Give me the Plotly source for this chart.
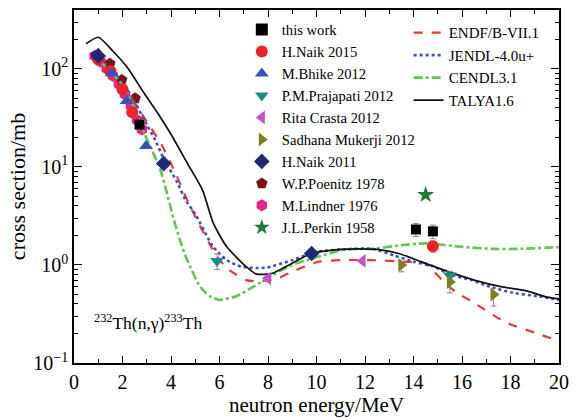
import plotly.graph_objects as go

# ---------------- data ----------------
talys_x = [0.5, 1.0, 1.6, 2.2, 2.9, 3.4, 4.0, 4.7, 5.3, 5.75, 6.3, 7.1, 7.5, 8.1, 8.7, 9.8, 11.0, 11.7, 12.5, 13.4, 14.3, 15.4, 16.5, 17.6, 18.7, 19.5, 20.0]
talys_y = [180, 210, 152, 103, 56, 37, 21.5, 10.6, 5.8, 2.65, 1.53, 0.96, 0.81, 0.81, 0.95, 1.31, 1.44, 1.46, 1.44, 1.31, 1.08, 0.86, 0.70, 0.60, 0.54, 0.47, 0.45]

endf_x = [0.9, 1.5, 2.0, 2.5, 3.0, 3.6, 4.2, 4.6, 5.06, 5.9, 6.4, 7.1, 7.7, 8.4, 9.0, 10.1, 11.1, 12.3, 13.6, 14.5, 14.7, 15.4, 15.8, 16.5, 17.8, 19.2, 20.0]
endf_y = [125, 95, 68, 45, 29, 17, 8.5, 5.0, 2.9, 1.21, 0.89, 0.70, 0.68, 0.73, 0.855, 1.08, 1.12, 1.12, 1.08, 1.04, 0.93, 0.62, 0.52, 0.41, 0.26, 0.196, 0.168]

jendl_x = [0.9, 1.5, 2.0, 2.5, 3.0, 3.34, 3.68, 4.25, 4.6, 5.0, 5.74, 6.3, 6.9, 7.5, 7.95, 9.0, 10.0, 11.1, 12.3, 13.2, 14.0, 14.8, 15.5, 16.4, 17.15, 18.1, 19.1, 20.0]
jendl_y = [140, 100, 72, 46, 27, 19, 12.4, 7.0, 4.6, 3.3, 1.53, 1.12, 0.96, 0.93, 0.94, 1.12, 1.36, 1.44, 1.46, 1.25, 1.08, 0.97, 0.80, 0.70, 0.60, 0.52, 0.48, 0.44]

cendl_x = [1.0, 1.5, 2.17, 2.9, 3.55, 3.8, 4.1, 4.4, 4.65, 5.2, 5.6, 6.0, 6.7, 7.4, 8.2, 9.0, 10.0, 11.2, 12.3, 13.4, 14.5, 16.0, 17.2, 18.4, 20.0]
cendl_y = [122, 95, 59, 22, 9.5, 5.8, 3.0, 1.7, 1.15, 0.60, 0.48, 0.44, 0.48, 0.60, 0.79, 1.0, 1.2, 1.44, 1.46, 1.58, 1.66, 1.53, 1.46, 1.46, 1.52]

work_x = [2.7, 14.1, 14.8]
work_y = [27, 2.3, 2.2]
work_e = [3, 0.35, 0.35]

naik15_x = [1.0, 1.5, 2.0, 2.4, 14.8]
naik15_y = [125, 95, 62, 36, 1.55]
naik15_e = [8, 6, 4, 3, 0.2]

bhike_x = [1.0, 1.55, 2.17, 2.97]
bhike_y = [143, 90, 47, 16.3]

praj_x = [5.9, 15.5]
praj_y = [1.1, 0.78]
praj_e = [0.2, 0.08]

crasta_x = [8.0, 11.9]
crasta_y = [0.73, 1.1]

mukerji_x = [13.5, 15.5, 17.3]
mukerji_y = [1.0, 0.67, 0.5]
mukerji_em = [0.15, 0.15, 0.12]

naik11_x = [1.0, 3.7, 9.8]
naik11_y = [135, 10.8, 1.31]

poenitz_x = [0.93, 1.48, 1.97, 2.52]
poenitz_y = [137, 113, 77, 50]

lindner_x = [0.85, 1.1, 1.35, 1.6, 1.85, 2.1, 2.35, 2.6, 2.8]
lindner_y = [135, 118, 100, 85, 70, 55, 42, 30, 24]

perkin_x = [14.5]
perkin_y = [5.2]

x_ticks = [0, 2, 4, 6, 8, 10, 12, 14, 16, 18, 20]
y_tickvals = [0.1, 1, 10, 100]
y_ticktext = ["10<sup>−1</sup>", "10<sup>0</sup>", "10<sup>1</sup>", "10<sup>2</sup>"]
y_minor = [m * 10 ** e for e in (-1, 0, 1, 2) for m in range(2, 10)]

FONT = "Times New Roman, Liberation Serif, serif"

fig = go.Figure()

def markers(name, x, y, symbol, color, size, rank, err=None, errm=None):
    kw = {}
    if err is not None or errm is not None:
        kw["error_y"] = dict(type="data", array=err if err is not None else [0] * len(x),
                             arrayminus=errm if errm is not None else err,
                             symmetric=False, color="#8a8a8a", thickness=1, width=3)
    fig.add_trace(go.Scatter(x=x, y=y, mode="markers", name=name, legend="legend",
                             legendrank=rank, legendgroup=name,
                             marker=dict(symbol=symbol, color=color, size=size, line=dict(width=0)),
                             **kw))

# low-energy clusters drawn beneath evaluation curves
markers("M.Lindner 1976", lindner_x, lindner_y, "hexagon", "#e8228c", 12, 9)
markers("W.P.Poenitz 1978", poenitz_x, poenitz_y, "pentagon", "#7a1414", 12, 8)

def curve(name, x, y, color, dash, width, rank):
    fig.add_trace(go.Scatter(x=x, y=y, mode="lines", name=name, legend="legend2",
                             legendrank=rank, legendgroup=name,
                             line=dict(color=color, dash=dash, width=width, shape="spline", smoothing=0.6)))

curve("ENDF/B-VII.1", endf_x, endf_y, "#e8373a", "dash", 2.2, 11)
curve("JENDL-4.0u+", jendl_x, jendl_y, "#3b4fbf", "dot", 2.6, 12)
curve("CENDL3.1", cendl_x, cendl_y, "#5cc84e", "dashdot", 2.6, 13)
curve("TALYA1.6", talys_x, talys_y, "#111111", "solid", 1.7, 14)

markers("this work", work_x, work_y, "square", "#000000", 10, 1, err=work_e)
markers("H.Naik 2015", naik15_x, naik15_y, "circle", "#ee2228", 12, 2, err=naik15_e)
markers("M.Bhike 2012", bhike_x, bhike_y, "triangle-up", "#3553b8", 12, 3)
markers("P.M.Prajapati 2012", praj_x, praj_y, "triangle-down", "#1c8c8a", 12, 4, err=praj_e)
markers("Rita Crasta 2012", crasta_x, crasta_y, "triangle-left", "#c452c0", 12, 5)
markers("Sadhana Mukerji 2012", mukerji_x, mukerji_y, "triangle-right", "#7f7f22", 12, 6,
        err=[0.0, 0.0, 0.0], errm=mukerji_em)
markers("H.Naik 2011", naik11_x, naik11_y, "diamond", "#1f2778", 12, 7)
markers("J.L.Perkin 1958", perkin_x, perkin_y, "star", "#1d7a3c", 13, 10)

fig.add_annotation(x=0.037, y=0.078, xref="paper", yref="paper", xanchor="left", yanchor="bottom",
                   text="<sup>232</sup>Th(n,γ)<sup>233</sup>Th", showarrow=False,
                   font=dict(family=FONT, size=17.5, color="black"))

axis_common = dict(showline=True, linecolor="black", linewidth=1.5, mirror="ticks",
                   ticks="inside", tickcolor="black", tickwidth=1.2, showgrid=False, zeroline=False,
                   tickfont=dict(family=FONT, size=20, color="black"))

fig.update_xaxes(range=[0, 20], tickvals=x_ticks, ticklen=7,
                 minor=dict(ticks="inside", dtick=1, ticklen=4, tickcolor="black", tickwidth=1.2),
                 title=dict(text="neutron energy/MeV", font=dict(family=FONT, size=21, color="black"), standoff=4),
                 **axis_common)
fig.update_yaxes(type="log", range=[-1, 2.6], tickvals=y_tickvals, ticktext=y_ticktext, ticklen=8,
                 minor=dict(ticks="inside", tickvals=y_minor, ticklen=4, tickcolor="black", tickwidth=1.2),
                 title=dict(text="cross section/mb", font=dict(family=FONT, size=22, color="black"), standoff=2),
                 **axis_common)

fig.update_layout(
    width=578, height=419,
    margin=dict(l=74, r=19, t=8, b=55),
    plot_bgcolor="white", paper_bgcolor="white",
    font=dict(family=FONT, color="black"),
    legend=dict(x=0.346, y=0.99, xanchor="left", yanchor="top", bgcolor="rgba(0,0,0,0)",
                font=dict(family=FONT, size=14.6, color="black"), tracegroupgap=0,
                traceorder="grouped", itemsizing="constant"),
    legend2=dict(x=0.69, y=0.982, xanchor="left", yanchor="top", bgcolor="rgba(0,0,0,0)",
                 font=dict(family=FONT, size=15, color="black"), tracegroupgap=0,
                 traceorder="grouped"),
)

fig.write_html("out.html", config={"displayModeBar": False})
with open("out.html", "r", encoding="utf-8") as f:
    html = f.read()
html = html.replace("<body>", '<body style="margin:0;padding:0;overflow:hidden">', 1)
with open("out.html", "w", encoding="utf-8") as f:
    f.write(html)
